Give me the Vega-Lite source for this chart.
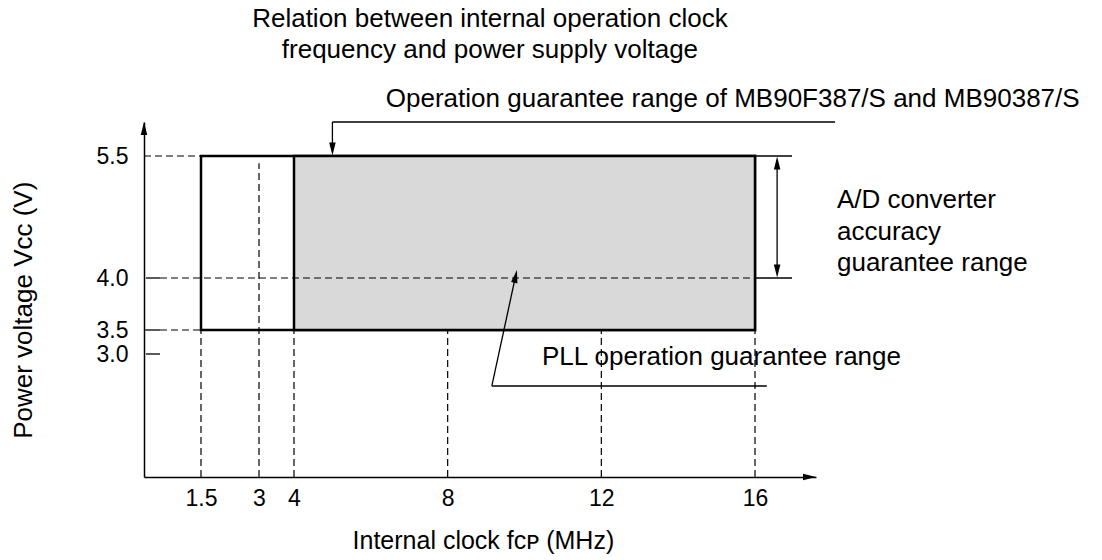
{
  "$schema": "https://vega.github.io/schema/vega-lite/v6.json",
  "width": 672,
  "height": 355,
  "autosize": {"type": "none"},
  "padding": {"left": 144, "top": 122, "right": 286, "bottom": 83},
  "background": "white",
  "config": {
    "view": {"stroke": null},
    "font": "Liberation Sans, DejaVu Sans",
    "axis": {"grid": false, "ticks": false, "domainColor": "black", "domainWidth": 1.5, "labelColor": "black", "labelFontSize": 23, "labelFont": "Liberation Sans", "title": null}
  },
  "datasets": {
    "regions": [
      {"region": "Operation guarantee range", "x": 1.5, "x2": 16, "y": 3.5, "y2": 5.5},
      {"region": "PLL operation guarantee range", "x": 4, "x2": 16, "y": 3.5, "y2": 5.5}
    ],
    "dashed": [
      {"x": 0, "x2": 16, "y": 5.5, "y2": 5.5},
      {"x": 0.42, "x2": 16, "y": 4.0, "y2": 4.0},
      {"x": 0.42, "x2": 1.5, "y": 3.5, "y2": 3.5},
      {"x": 1.5, "x2": 1.5, "y": 2.0, "y2": 3.5},
      {"x": 3, "x2": 3, "y": 2.0, "y2": 5.41},
      {"x": 4, "x2": 4, "y": 2.0, "y2": 5.5},
      {"x": 8, "x2": 8, "y": 2.0, "y2": 3.5},
      {"x": 12, "x2": 12, "y": 2.0, "y2": 3.5},
      {"x": 16, "x2": 16, "y": 2.0, "y2": 3.5}
    ],
    "solid": [
      {"x": 0.05, "x2": 0.42, "y": 3.0, "y2": 3.0},
      {"x": 0.03, "x2": 0.42, "y": 3.5, "y2": 3.5},
      {"x": 0.05, "x2": 0.42, "y": 4.0, "y2": 4.0},
      {"x": 5.0, "x2": 18.1, "y": 6.0, "y2": 6.0},
      {"x": 5.0, "x2": 5.0, "y": 6.0, "y2": 5.62},
      {"x": 16.58, "x2": 16.58, "y": 4.08, "y2": 5.42},
      {"x": 16, "x2": 16.97, "y": 5.5, "y2": 5.5},
      {"x": 16, "x2": 16.97, "y": 4.0, "y2": 4.0},
      {"x": 9.15, "x2": 9.77, "y": 2.74, "y2": 4.03},
      {"x": 9.15, "x2": 16.31, "y": 2.74, "y2": 2.74}
    ],
    "arrowUp": [
      {"x": 0, "y": 5.904},
      {"x": 16.58, "y": 5.414}
    ],
    "arrowDown": [
      {"x": 5.0, "y": 5.603},
      {"x": 16.58, "y": 4.086}
    ],
    "arrowRight": [
      {"x": 17.43, "y": 2.0}
    ],
    "arrowPll": [
      {"x": 9.768, "y": 4.02}
    ],
    "centerText": [
      {"label": "Relation between internal operation clock", "x": 9.1, "y": 7.4},
      {"label": "frequency and power supply voltage", "x": 9.1, "y": 6.94}
    ],
    "xTitle": [
      {"label": "Internal clock fᴄᴘ (MHz)", "x": 8.93, "y": 1.415}
    ],
    "leftText": [
      {"label": "Operation guarantee range of MB90F387/S and MB90387/S", "x": 6.39, "y": 6.225},
      {"label": "A/D converter", "x": 18.15, "y": 4.855},
      {"label": "accuracy", "x": 18.15, "y": 4.473},
      {"label": "guarantee range", "x": 18.15, "y": 4.092},
      {"label": "PLL operation guarantee range", "x": 10.455, "y": 2.911}
    ],
    "yTitle": [
      {"label": "Power voltage Vᴄᴄ (V)", "x": -3.16, "y": 3.69}
    ]
  },
  "encoding": {
    "x": {
      "field": "x", "type": "quantitative",
      "scale": {"domain": [0, 1.5, 3, 4, 16, 17.6], "range": [0, 57, 115, 150, 611, 672], "nice": false, "zero": false},
      "axis": {"values": [1.5, 3, 4, 8, 12, 16], "labelPadding": 10, "labelExpr": "datum.value"}
    },
    "y": {
      "field": "y", "type": "quantitative",
      "scale": {"domain": [2.0, 3.0, 3.5, 4.0, 5.5, 6.0], "range": [355, 232, 208, 156, 34, 0], "nice": false, "zero": false},
      "axis": {"values": [3.0, 3.5, 4.0, 5.5], "format": ".1f", "labelPadding": 16}
    }
  },
  "layer": [
    {
      "data": {"name": "regions"},
      "mark": {"type": "rect", "stroke": "black", "strokeWidth": 2.5},
      "encoding": {
        "x2": {"field": "x2"},
        "y2": {"field": "y2"},
        "fill": {"field": "region", "type": "nominal", "scale": {"range": ["#ffffff", "#d9d9d9"]}, "legend": null}
      }
    },
    {
      "data": {"name": "dashed"},
      "mark": {"type": "rule", "color": "black", "strokeWidth": 1.2, "strokeDash": [7, 4]},
      "encoding": {"x2": {"field": "x2"}, "y2": {"field": "y2"}}
    },
    {
      "data": {"name": "solid"},
      "mark": {"type": "rule", "color": "black", "strokeWidth": 1.3},
      "encoding": {"x2": {"field": "x2"}, "y2": {"field": "y2"}}
    },
    {
      "data": {"name": "arrowUp"},
      "mark": {"type": "point", "shape": "M0,-1L0.5,1L-0.5,1Z", "filled": true, "color": "black", "opacity": 1, "size": 169, "strokeWidth": 0}
    },
    {
      "data": {"name": "arrowDown"},
      "mark": {"type": "point", "shape": "M0,-1L0.5,1L-0.5,1Z", "filled": true, "color": "black", "opacity": 1, "size": 169, "strokeWidth": 0, "angle": 180}
    },
    {
      "data": {"name": "arrowRight"},
      "mark": {"type": "point", "shape": "M0,-1L0.5,1L-0.5,1Z", "filled": true, "color": "black", "opacity": 1, "size": 169, "strokeWidth": 0, "angle": 90}
    },
    {
      "data": {"name": "arrowPll"},
      "mark": {"type": "point", "shape": "M0,-1L0.5,1L-0.5,1Z", "filled": true, "color": "black", "opacity": 1, "size": 169, "strokeWidth": 0, "angle": 12}
    },
    {
      "data": {"name": "centerText"},
      "mark": {"type": "text", "align": "center", "baseline": "alphabetic", "fontSize": 26, "color": "black"},
      "encoding": {"text": {"field": "label"}}
    },
    {
      "data": {"name": "xTitle"},
      "mark": {"type": "text", "align": "center", "baseline": "alphabetic", "fontSize": 25, "color": "black"},
      "encoding": {"text": {"field": "label"}}
    },
    {
      "data": {"name": "leftText"},
      "mark": {"type": "text", "align": "left", "baseline": "alphabetic", "fontSize": 26, "color": "black"},
      "encoding": {"text": {"field": "label"}}
    },
    {
      "data": {"name": "yTitle"},
      "mark": {"type": "text", "align": "center", "baseline": "middle", "fontSize": 26, "color": "black", "angle": 270},
      "encoding": {"text": {"field": "label"}}
    }
  ]
}
